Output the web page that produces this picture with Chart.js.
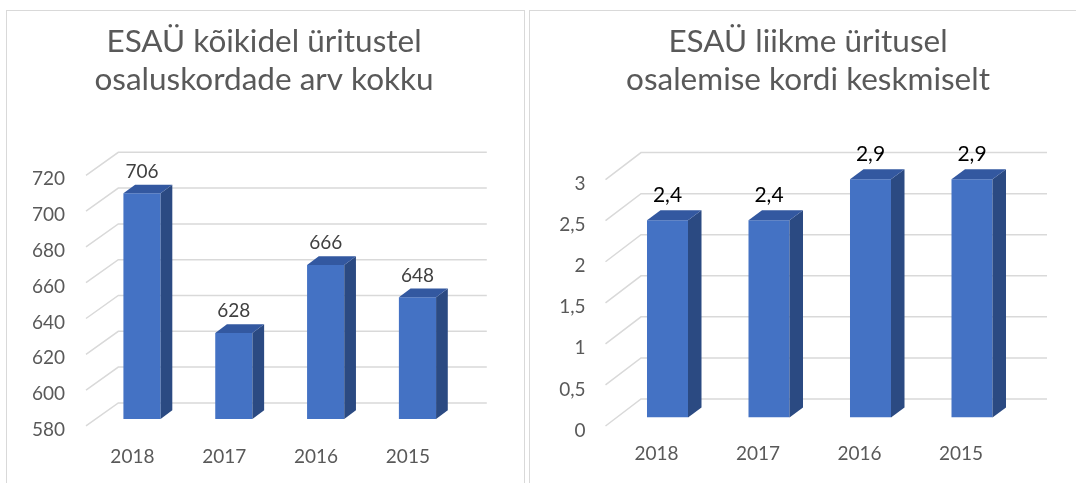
<!DOCTYPE html>
<html>
<head>
<meta charset="utf-8">
<script src="https://cdn.jsdelivr.net/npm/chart.js@4/dist/chart.umd.min.js"></script>
<style>
  html, body { margin: 0; padding: 0; background: #fff; }
  body { width: 1076px; height: 483px; position: relative; overflow: hidden; }
  .panel { position: absolute; border: 1px solid #d9d9d9; box-sizing: border-box; }
  canvas { position: absolute; }
</style>
</head>
<body>
<div class="panel" style="left:6px; top:10px; width:519px; height:500px;"></div>
<div class="panel" style="left:529px; top:10px; width:600px; height:500px;"></div>
<canvas id="chartTotal" width="514" height="473" style="left:7px; top:10px;"></canvas>
<canvas id="chartAvg" width="558" height="473" style="left:529px; top:10px;"></canvas>
<script>
// andmed
const years = ['2018', '2017', '2016', '2015'];
const totalVisits = [706, 628, 666, 648];
const avgVisits = [2.4, 2.4, 2.9, 2.9];
const totalAxis = [580, 720, 20];   // min, max, samm
const avgAxis = [0, 3, 0.5];

const titleTotal = ['ESAÜ kõikidel üritustel', 'osaluskordade arv kokku'];
const titleAvg = ['ESAÜ liikme üritusel', 'osalemise kordi keskmiselt'];

function komaga(v) {
    return String(v).replace('.', ',');
}

// 3D tulbad + kaldus abijooned
const bar3d = {
    id: 'bar3d',
    beforeDatasetsDraw(chart, args, o) {
        const ctx = chart.ctx;
        const y = chart.scales.y;
        ctx.save();
        ctx.strokeStyle = '#d9d9d9';
        ctx.lineWidth = 1.5;
        y.ticks.forEach((t) => {
            const py = y.getPixelForValue(t.value);
            ctx.beginPath();
            ctx.moveTo(o.gx0, py + o.gDown);
            ctx.lineTo(o.gx1, py - o.gUp);
            ctx.lineTo(o.gx2, py - o.gUp);
            ctx.stroke();
        });
        ctx.restore();
    },
    afterDatasetsDraw(chart, args, o) {
        const ctx = chart.ctx;
        const meta = chart.getDatasetMeta(0);
        const data = chart.data.datasets[0].data;
        ctx.save();
        meta.data.forEach((bar, i) => {
            const p = bar.getProps(['x', 'y', 'base', 'width'], true);
            const l = p.x - p.width / 2;
            const r = p.x + p.width / 2;
            // kylg
            ctx.fillStyle = o.side;
            ctx.beginPath();
            ctx.moveTo(r, p.base);
            ctx.lineTo(r, p.y);
            ctx.lineTo(r + o.dx, p.y + o.dy);
            ctx.lineTo(r + o.dx, p.base + o.dy);
            ctx.closePath();
            ctx.fill();
            // pealmine
            ctx.fillStyle = o.top;
            ctx.beginPath();
            ctx.moveTo(l, p.y);
            ctx.lineTo(r, p.y);
            ctx.lineTo(r + o.dx, p.y + o.dy);
            ctx.lineTo(l + o.dx, p.y + o.dy);
            ctx.closePath();
            ctx.fill();
            // silt
            ctx.fillStyle = o.labelColor;
            ctx.font = o.labelSize + 'px Lato';
            ctx.textAlign = 'center';
            ctx.textBaseline = 'middle';
            ctx.fillText(komaga(data[i]), p.x, p.y + o.dy - o.gap);
        });
        ctx.restore();
    }
};

function makeChart(id, values, axis, title, g) {
    const ctx = document.getElementById(id).getContext('2d');
    return new Chart(ctx, {
        type: 'bar',
        data: {
            labels: years,
            datasets: [{
                data: values,
                base: axis[0],
                backgroundColor: '#4472C4',
                borderWidth: 0,
                barPercentage: g.barPct,
                categoryPercentage: 1
            }]
        },
        options: {
            responsive: false,
            animation: false,
            devicePixelRatio: 1,
            layout: { padding: 0 },
            plugins: {
                legend: { display: false },
                tooltip: { enabled: false },
                title: {
                    display: true,
                    text: title,
                    color: '#595959',
                    font: { family: 'Lato', size: 31.5, weight: 'normal', lineHeight: 1.222 },
                    padding: { top: 12.4, bottom: g.titleBottom }
                },
                bar3d: g.d3
            },
            scales: {
                x: {
                    grid: { display: false, drawTicks: false },
                    border: { display: false },
                    ticks: {
                        color: '#595959',
                        font: { family: 'Lato', size: 19 },
                        padding: g.xPad,
                        labelOffset: g.xOff,
                        maxRotation: 0
                    },
                    afterFit: (s) => { s.height = g.xH; }
                },
                y: {
                    min: axis[0],
                    max: axis[1],
                    grid: { display: false, drawTicks: false },
                    border: { display: false },
                    ticks: {
                        stepSize: axis[2],
                        color: '#595959',
                        font: { family: 'Lato', size: 19 },
                        padding: g.yPad,
                        labelOffset: g.yOff,
                        callback: (v) => komaga(v)
                    },
                    afterFit: (s) => { s.width = g.yW; }
                },
                pad: {
                    position: 'right',
                    display: true,
                    grid: { display: false, drawTicks: false },
                    border: { display: false },
                    ticks: { display: false },
                    afterFit: (s) => { s.width = g.rW; }
                }
            }
        },
        plugins: [bar3d]
    });
}

makeChart('chartTotal', totalVisits, totalAxis, titleTotal, {
    barPct: 0.405, titleBottom: 68.9,
    xPad: 26.4, xOff: -9.6, xH: 64.1,
    yPad: 31.1, yOff: 11, yW: 89.1, rW: 57.6,
    d3: { dx: 11.7, dy: -8.7, side: '#2B4A82', top: '#3358A0',
          gx0: 79, gx1: 111.3, gx2: 479.8, gDown: 7, gUp: 16,
          labelColor: '#404040', labelSize: 19, gap: 13 }
});

makeChart('chartAvg', avgVisits, avgAxis, titleAvg, {
    barPct: 0.404, titleBottom: 71.7,
    xPad: 24.8, xOff: -11, xH: 65.5,
    yPad: 31.25, yOff: 13, yW: 87.75, rW: 64.25,
    d3: { dx: 13.5, dy: -10, side: '#2B4A82', top: '#3358A0',
          gx0: 76.5, gx1: 112, gx2: 518, gDown: 8.5, gUp: 18.5,
          labelColor: '#000000', labelSize: 21, gap: 15 }
});
</script>
</body>
</html>
